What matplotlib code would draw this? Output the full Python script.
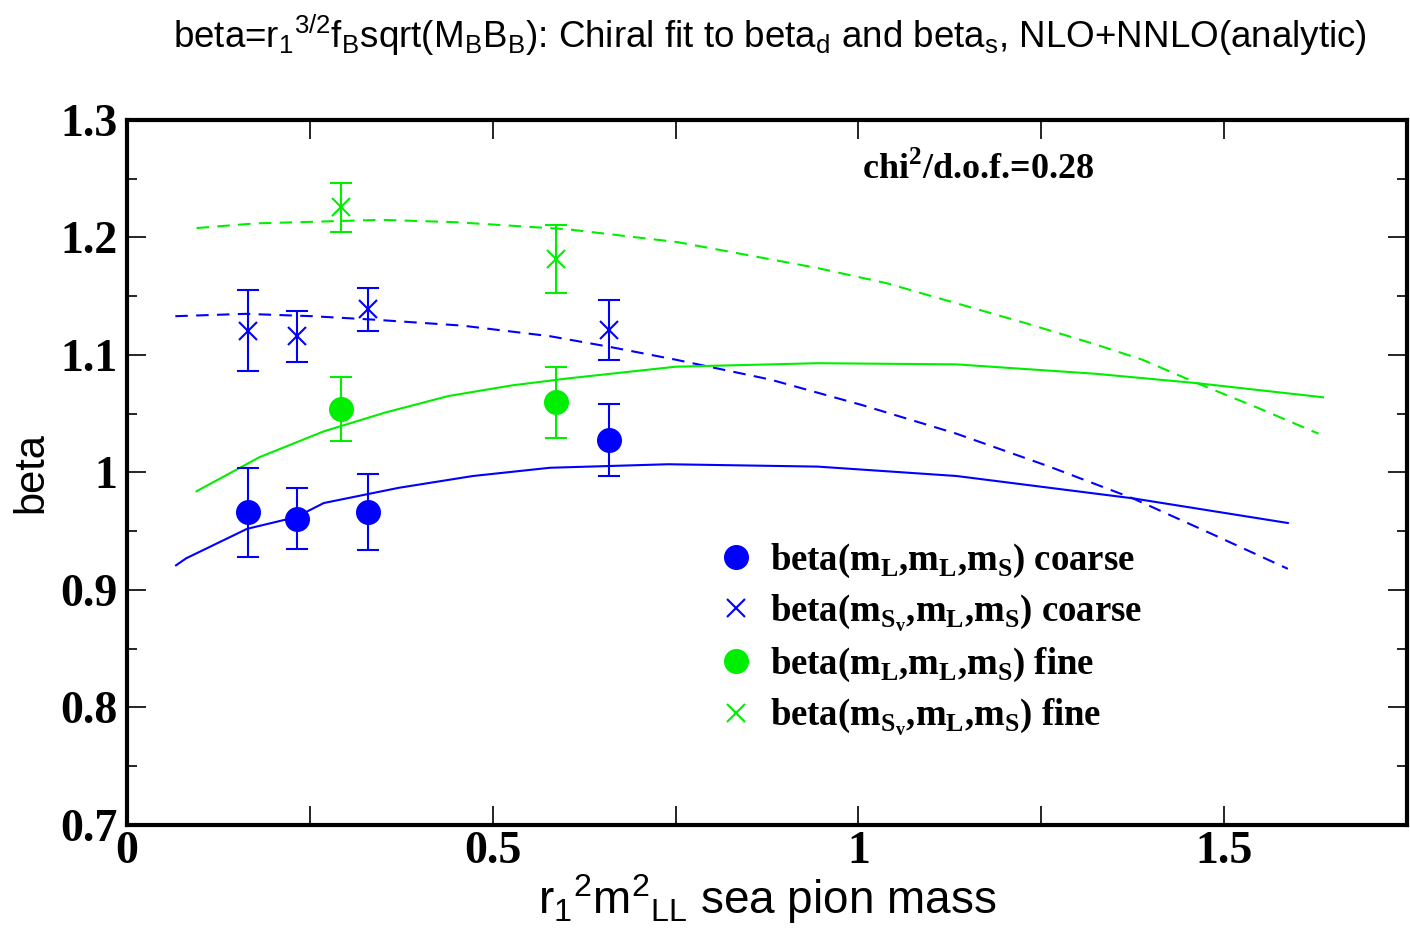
import matplotlib
matplotlib.use("Agg")
import matplotlib.pyplot as plt
from matplotlib.ticker import MultipleLocator, FormatStrFormatter
from matplotlib.lines import Line2D

plt.rcParams['mathtext.fontset'] = 'custom'
plt.rcParams['mathtext.rm'] = 'Liberation Sans'
plt.rcParams['mathtext.it'] = 'Liberation Sans'
plt.rcParams['mathtext.bf'] = 'Liberation Serif:bold'

BLUE = '#0000ff'
GREEN = '#00ee00'

# data points (x = r1^2 m_LL^2, y = beta, lo/hi = error bar ends)
coarse_x = [0.165, 0.232, 0.330, 0.659]
coarse_d = [0.966, 0.960, 0.966, 1.028]
coarse_d_lo = [0.928, 0.935, 0.934, 0.997]
coarse_d_hi = [1.004, 0.987, 0.999, 1.058]
coarse_s = [1.120, 1.116, 1.139, 1.121]
coarse_s_lo = [1.086, 1.094, 1.120, 1.096]
coarse_s_hi = [1.155, 1.137, 1.157, 1.147]

fine_x = [0.293, 0.586]
fine_d = [1.054, 1.060]
fine_d_lo = [1.027, 1.029]
fine_d_hi = [1.081, 1.090]
fine_s = [1.226, 1.182]
fine_s_lo = [1.205, 1.153]
fine_s_hi = [1.246, 1.211]

# fit curves
fit_cd_x = [0.067, 0.081, 0.164, 0.231, 0.269, 0.372, 0.473, 0.578, 0.740, 0.944, 1.134, 1.375, 1.587]
fit_cd_y = [0.921, 0.927, 0.952, 0.962, 0.974, 0.987, 0.997, 1.004, 1.007, 1.005, 0.997, 0.978, 0.957]
fit_cs_x = [0.066, 0.162, 0.253, 0.339, 0.458, 0.578, 0.659, 0.750, 0.880, 1.007, 1.134, 1.261, 1.375, 1.482, 1.587]
fit_cs_y = [1.133, 1.135, 1.133, 1.130, 1.125, 1.116, 1.107, 1.096, 1.079, 1.057, 1.033, 1.005, 0.978, 0.948, 0.918]
fit_fd_x = [0.095, 0.181, 0.269, 0.353, 0.439, 0.525, 0.602, 0.750, 0.944, 1.134, 1.324, 1.463, 1.635]
fit_fd_y = [0.984, 1.013, 1.035, 1.051, 1.065, 1.074, 1.080, 1.090, 1.093, 1.092, 1.084, 1.076, 1.064]
fit_fs_x = [0.095, 0.176, 0.348, 0.449, 0.602, 0.753, 0.944, 1.039, 1.134, 1.229, 1.324, 1.388, 1.463, 1.546, 1.629]
fit_fs_y = [1.208, 1.212, 1.215, 1.213, 1.207, 1.196, 1.174, 1.161, 1.144, 1.127, 1.109, 1.096, 1.076, 1.055, 1.033]

legend_labels = [
    r'beta(m$_\mathbf{L}$,m$_\mathbf{L}$,m$_\mathbf{S}$) coarse',
    r'beta(m$_{\mathbf{S}_\mathbf{v}}$,m$_\mathbf{L}$,m$_\mathbf{S}$) coarse',
    r'beta(m$_\mathbf{L}$,m$_\mathbf{L}$,m$_\mathbf{S}$) fine',
    r'beta(m$_{\mathbf{S}_\mathbf{v}}$,m$_\mathbf{L}$,m$_\mathbf{S}$) fine',
]


def errs(y, lo, hi):
    return [[a - b for a, b in zip(y, lo)], [c - a for a, c in zip(y, hi)]]


fig = plt.figure(figsize=(14.1, 9.38), dpi=100)
ax = fig.add_axes([0.0901, 0.1205, 0.9078, 0.7516])

ax.plot(fit_cd_x, fit_cd_y, color=BLUE, lw=1.5)
ax.plot(fit_cs_x, fit_cs_y, color=BLUE, lw=1.5, dashes=(6, 4))
ax.plot(fit_fd_x, fit_fd_y, color=GREEN, lw=1.5)
ax.plot(fit_fs_x, fit_fs_y, color=GREEN, lw=1.5, dashes=(6, 4))

ax.errorbar(coarse_x, coarse_d, yerr=errs(coarse_d, coarse_d_lo, coarse_d_hi), fmt='o',
            color=BLUE, ms=17, elinewidth=1.5, capsize=8, capthick=1.5, zorder=5)
ax.errorbar(coarse_x, coarse_s, yerr=errs(coarse_s, coarse_s_lo, coarse_s_hi), fmt='x',
            color=BLUE, ms=13, mew=1.5, elinewidth=1.5, capsize=8, capthick=1.5, zorder=5)
ax.errorbar(fine_x, fine_d, yerr=errs(fine_d, fine_d_lo, fine_d_hi), fmt='o',
            color=GREEN, ms=17, elinewidth=1.5, capsize=8, capthick=1.5, zorder=5)
ax.errorbar(fine_x, fine_s, yerr=errs(fine_s, fine_s_lo, fine_s_hi), fmt='x',
            color=GREEN, ms=13, mew=1.5, elinewidth=1.5, capsize=8, capthick=1.5, zorder=5)

ax.set_xlim(0, 1.75)
ax.set_ylim(0.7, 1.3)
ax.xaxis.set_major_locator(MultipleLocator(0.5))
ax.xaxis.set_minor_locator(MultipleLocator(0.25))
ax.yaxis.set_major_locator(MultipleLocator(0.1))
ax.yaxis.set_minor_locator(MultipleLocator(0.05))
ax.xaxis.set_major_formatter(FormatStrFormatter('%g'))
ax.yaxis.set_major_formatter(FormatStrFormatter('%g'))
ax.tick_params(which='both', direction='in', top=True, right=True, width=1.2)
ax.tick_params(which='major', length=14)
ax.tick_params(axis='x', which='minor', length=14)
ax.tick_params(axis='y', which='minor', length=7)
ax.tick_params(axis='x', pad=4)
ax.tick_params(axis='y', pad=7)
for lab in ax.get_xticklabels() + ax.get_yticklabels():
    lab.set_fontfamily('Liberation Serif')
    lab.set_fontweight('bold')
    lab.set_fontsize(33)
for sp in ax.spines.values():
    sp.set_linewidth(3)

ax.set_xlabel(r'r$_1$$^2$m$^2$$_{LL}$ sea pion mass', fontfamily='Liberation Sans', fontsize=33, labelpad=0)
ax.set_ylabel('beta', fontfamily='Liberation Sans', fontsize=30, labelpad=6)
fig.text(0.546, 0.962, r'beta=r$_1$$^{3/2}$f$_B$sqrt(M$_B$B$_B$): Chiral fit to beta$_d$ and beta$_s$, NLO+NNLO(analytic)',
         ha='center', va='center', fontfamily='Liberation Sans', fontsize=26.5)

ax.text(0.665, 0.93, r'chi$^\mathbf{2}$/d.o.f.=0.28', transform=ax.transAxes, ha='center', va='center',
        fontfamily='Liberation Serif', fontweight='bold', fontsize=26)

handles = [
    Line2D([], [], marker='o', ls='none', color=BLUE, ms=17),
    Line2D([], [], marker='x', ls='none', color=BLUE, ms=13, mew=1.5),
    Line2D([], [], marker='o', ls='none', color=GREEN, ms=17),
    Line2D([], [], marker='x', ls='none', color=GREEN, ms=13, mew=1.5),
]
ax.legend(handles, legend_labels, loc='upper left', bbox_to_anchor=(0.461, 0.402), frameon=False,
          prop={'family': 'Liberation Serif', 'weight': 'bold', 'size': 26.5},
          handlelength=1.0, handletextpad=0.45, labelspacing=0.34, borderaxespad=0, borderpad=0)

fig.savefig('out.png', dpi=100)
